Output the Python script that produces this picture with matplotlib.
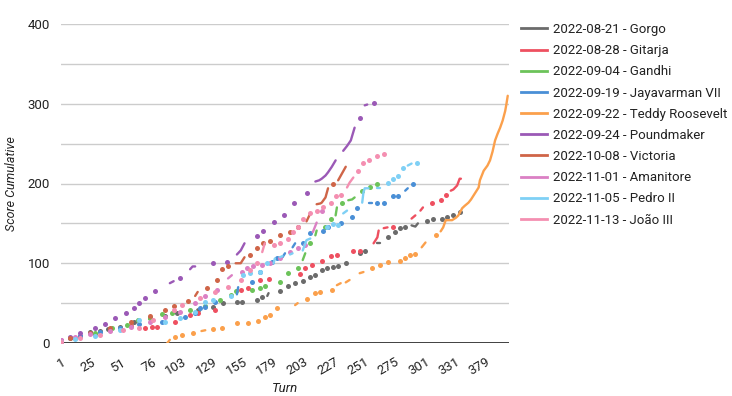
import matplotlib
matplotlib.use("Agg")
import matplotlib.pyplot as plt
from matplotlib.lines import Line2D
import numpy as np

plt.rcParams['font.family'] = ['Roboto', 'DejaVu Sans']

# ---- axis categories ----
turn_labels = ['1', '25', '51', '76', '103', '129', '155', '179', '203', '227',
               '251', '275', '301', '331', '379']
label_step = 24          # categories between shown labels
n_categories = 354

series_names = ['2022-08-21 - Gorgo', '2022-08-28 - Gitarja', '2022-09-04 - Gandhi',
                '2022-09-19 - Jayavarman VII', '2022-09-22 - Teddy Roosevelt',
                '2022-09-24 - Poundmaker', '2022-10-08 - Victoria', '2022-11-01 - Amanitore',
                '2022-11-05 - Pedro II', '2022-11-13 - João III']
colors = ['#6b6b6b', '#ee5060', '#6cc35a', '#4a8fd6', '#fba04c',
          '#9b59b6', '#cf6548', '#db80c4', '#7fd0f5', '#f48fb1']

# ---- series (category index, cumulative score) ----
gorgo_x = [0, 7, 15, 23, 31, 37, 47, 58, 70, 82, 92, 108, 120, 128, 139, 143, 155, 159, 163, 164,
           173, 179, 185, 191, 197, 201, 206, 210, 215, 219, 225, 236, 240, 250, 252, 258, 264,
           268, 272, 277, 280, 282, 289, 294, 301, 305, 310, 315]
gorgo_y = [2.5, 6, 9, 14, 15, 17.5, 20, 26, 31, 34, 37.5, 41, 45, 50, 51, 51, 54, 57.5, 59, 62.5,
           65, 71, 75, 77.5, 82.5, 85, 91, 94, 95, 96, 100, 112.5, 115, 125, 125, 132.5, 139,
           144, 145, 147.5, 146, 150, 152.5, 155, 156, 157.5, 160, 164]

gitarja_x = [0, 11, 27, 39, 55, 66, 72, 76, 90, 102, 108, 122, 142, 148, 157, 164, 189, 193, 198,
             206, 213, 218, 231, 236, 247, 250, 251, 255, 258, 262, 277, 280, 284, 286, 293, 300,
             304, 308, 310, 313, 315, 316]
gitarja_y = [1, 6, 11, 16, 21, 19, 20, 20, 26, 35, 37.5, 41, 66, 69, 79, 80, 86, 94, 97.5,
             102.5, 109, 110, 115, 115, 125, 132.5, 141, 144, 145, 145, 156, 160, 166, 170, 175,
             179, 185, 191, 192.5, 197.5, 206, 206]

gandhi_x = [0, 11, 27, 40, 52, 61, 70, 80, 88, 102, 114, 126, 134, 138, 151, 157, 161, 173, 179,
            187, 191, 193, 197, 201, 202, 209, 213, 217, 218, 222, 227, 230, 232, 238, 244, 250]
gandhi_y = [2.5, 6, 12.5, 19, 22.5, 29, 31, 36, 37.5, 41, 46, 54, 60, 65, 66, 69, 71, 76, 87.5,
            94, 104, 112.5, 125, 135, 141, 145, 156, 160, 170, 176, 179, 180, 182.5, 191, 196, 199]

jayavarman_x = [0, 15, 31, 47, 62, 80, 98, 106, 110, 114, 122, 139, 140, 151, 157, 167, 171, 175,
                177, 183, 185, 191, 197, 207, 211, 221, 230, 234, 243, 246, 250, 255, 262, 266,
                272, 274, 278]
jayavarman_y = [2.5, 9, 14, 19, 24, 26, 32.5, 37.5, 44, 45, 51, 61, 70, 76, 89, 101, 106, 107.5,
                112.5, 120, 125, 126, 137.5, 141, 145, 150, 157.5, 169, 175, 175, 176, 176, 184,
                184, 191, 194, 200]

teddy_x = [84, 86, 90, 96, 104, 111, 114, 120, 127, 139, 148, 156, 161, 165, 171, 185, 187, 194,
           201, 205, 214, 218, 221, 225, 228, 236, 239, 246, 252, 258, 268, 272, 276, 280, 285,
           288, 296, 300, 302, 304, 306, 309, 312, 314, 317, 319, 322, 324, 326, 328, 330, 331,
           334, 337, 339, 341, 343, 345, 347, 349, 351, 352, 353]
teddy_y = [0, 4, 7.5, 10, 12.5, 15, 16, 17.5, 19, 25, 25, 27.5, 32.5, 35, 44, 47.5, 50, 55,
           62.5, 64, 66, 72.5, 75, 76, 79, 87.5, 89, 94, 97.5, 101, 102.5, 106, 110, 111, 120,
           126, 136, 140, 145, 154, 154, 154, 157, 160, 169, 172, 176, 180, 185, 190, 195, 204,
           216, 222.5, 229, 240, 254, 262.5, 270, 279, 291, 300, 310]

poundmaker_x = [0, 7, 15, 27, 35, 43, 51, 58, 62, 66, 74, 86, 89, 94, 102, 104, 106, 120, 131,
                139, 142, 145, 155, 160, 168, 176, 184, 194, 201, 204, 206, 209, 211, 214, 217,
                223, 226, 229, 232, 236, 240, 242, 247]
poundmaker_y = [4, 7.5, 12.5, 19, 24, 31, 38, 44, 50, 56, 65, 75, 77.5, 81, 92.5, 96, 96, 100,
                101, 111, 116, 125, 134, 141, 152, 160, 175, 188, 202.5, 204, 206, 210, 214, 221,
                229, 241, 247, 254, 270, 282.5, 298, 299, 301]

victoria_x = [0, 7, 23, 39, 55, 70, 82, 89, 100, 106, 108, 115, 123, 127, 132, 138, 140, 142,
              145, 149, 155, 160, 165, 173, 181, 187, 194, 197, 202, 205, 206, 209, 211, 215,
              219, 222, 225]
victoria_y = [2.5, 6, 12.5, 19, 26, 34, 41, 46, 52.5, 59, 64, 69, 79, 92.5, 96, 100, 100, 100,
              107.5, 110, 119, 125, 128, 135, 139, 145, 152.5, 162.5, 174, 175, 176, 182.5, 194,
              199, 204, 212.5, 221]

amanitore_x = [0, 11, 23, 39, 55, 70, 82, 94, 106, 114, 123, 132, 135, 143, 147, 152, 159, 165,
               173, 181, 187, 193, 199, 202, 206]
amanitore_y = [4, 7.5, 11, 15, 20, 26, 32.5, 39, 50, 59, 66, 81, 85, 89, 94, 96, 97.5, 100,
               106, 114, 119, 122.5, 139, 151, 166]

pedro_x = [0, 11, 27, 47, 62, 82, 94, 106, 114, 120, 134, 144, 149, 157, 163, 168, 169, 173,
           175, 181, 183, 191, 194, 197, 210, 215, 219, 223, 226, 238, 239, 240, 243, 250, 252,
           258, 262, 266, 270, 274, 277, 281]
pedro_y = [1, 5, 9, 16, 29, 26, 31, 39, 51, 54, 59, 85, 87.5, 89, 100, 100, 106, 107.5, 109,
           111, 112.5, 116, 129, 131, 145, 149, 147.5, 162.5, 166, 176, 189, 194, 194, 194, 194,
           201, 206, 210, 219, 222.5, 225, 226]

joao_x = [0, 15, 31, 49, 62, 73, 89, 96, 110, 122, 132, 142, 149, 155, 159, 161, 168, 173, 179,
          183, 187, 191, 197, 202, 207, 213, 217, 221, 226, 228, 231, 235, 239, 243, 250, 255]
joao_y = [1, 6, 10, 16, 19, 29, 41, 47.5, 56, 64, 70, 79, 91, 100, 114, 125, 122.5, 125, 131,
          139, 146, 155, 162.5, 166, 170, 175, 184, 185, 195, 201, 207.5, 216, 226, 229, 235,
          237.5]

series_x = [gorgo_x, gitarja_x, gandhi_x, jayavarman_x, teddy_x,
            poundmaker_x, victoria_x, amanitore_x, pedro_x, joao_x]
series_y = [gorgo_y, gitarja_y, gandhi_y, jayavarman_y, teddy_y,
            poundmaker_y, victoria_y, amanitore_y, pedro_y, joao_y]

fig = plt.figure(figsize=(7.32, 3.96), dpi=100)
ax = fig.add_axes([61 / 732, 1 - 343 / 396, 448 / 732, 319 / 396])

max_gap = 3
for name, color, xs, ys in zip(series_names, colors, series_x, series_y):
    xs = np.asarray(xs, float)
    ys = np.asarray(ys, float)
    breaks = np.where(np.diff(xs) > max_gap)[0] + 1
    for rx, ry in zip(np.split(xs, breaks), np.split(ys, breaks)):
        if len(rx) == 1:
            ax.plot(rx, ry, 'o', ms=3.6, color=color, mec='none', zorder=3)
        else:
            ax.plot(rx, ry, '-', lw=1.7, color=color, solid_capstyle='round', zorder=3)

ax.set_xlim(0, n_categories)
ax.set_ylim(0, 400)
ax.set_yticks([0, 100, 200, 300, 400])
ax.set_yticks([50, 150, 250, 350], minor=True)
ax.grid(axis='y', which='both', color='#cccccc', lw=1)
ax.set_axisbelow(True)
for s in ax.spines.values():
    s.set_visible(False)
ax.axhline(0, color='#333333', lw=1.3, zorder=2)

ax.set_xticks(np.arange(len(turn_labels)) * label_step)
ax.set_xticklabels(turn_labels, rotation=30, ha='right', va='top', rotation_mode='anchor',
                   fontsize=9.5, color='#222222')
ax.tick_params(axis='x', length=0, pad=9)
ax.tick_params(axis='y', which='both', length=0, pad=8, labelsize=9.5, labelcolor='#222222')

ax.set_xlabel('Turn', fontsize=9.5, style='italic', color='#222222', labelpad=3)
ax.set_ylabel('Score Cumulative', fontsize=9, style='italic', color='#222222', labelpad=7)

handles = [Line2D([0], [0], color=c, lw=2) for c in colors]
fig.legend(handles, series_names, loc='upper left', bbox_to_anchor=(521 / 732, 1 - 23 / 396),
           frameon=False, fontsize=9.5, handlelength=2.0, handletextpad=0.45,
           labelspacing=0.62, borderaxespad=0, borderpad=0, labelcolor='#222222')

fig.savefig('out.png', dpi=100)
